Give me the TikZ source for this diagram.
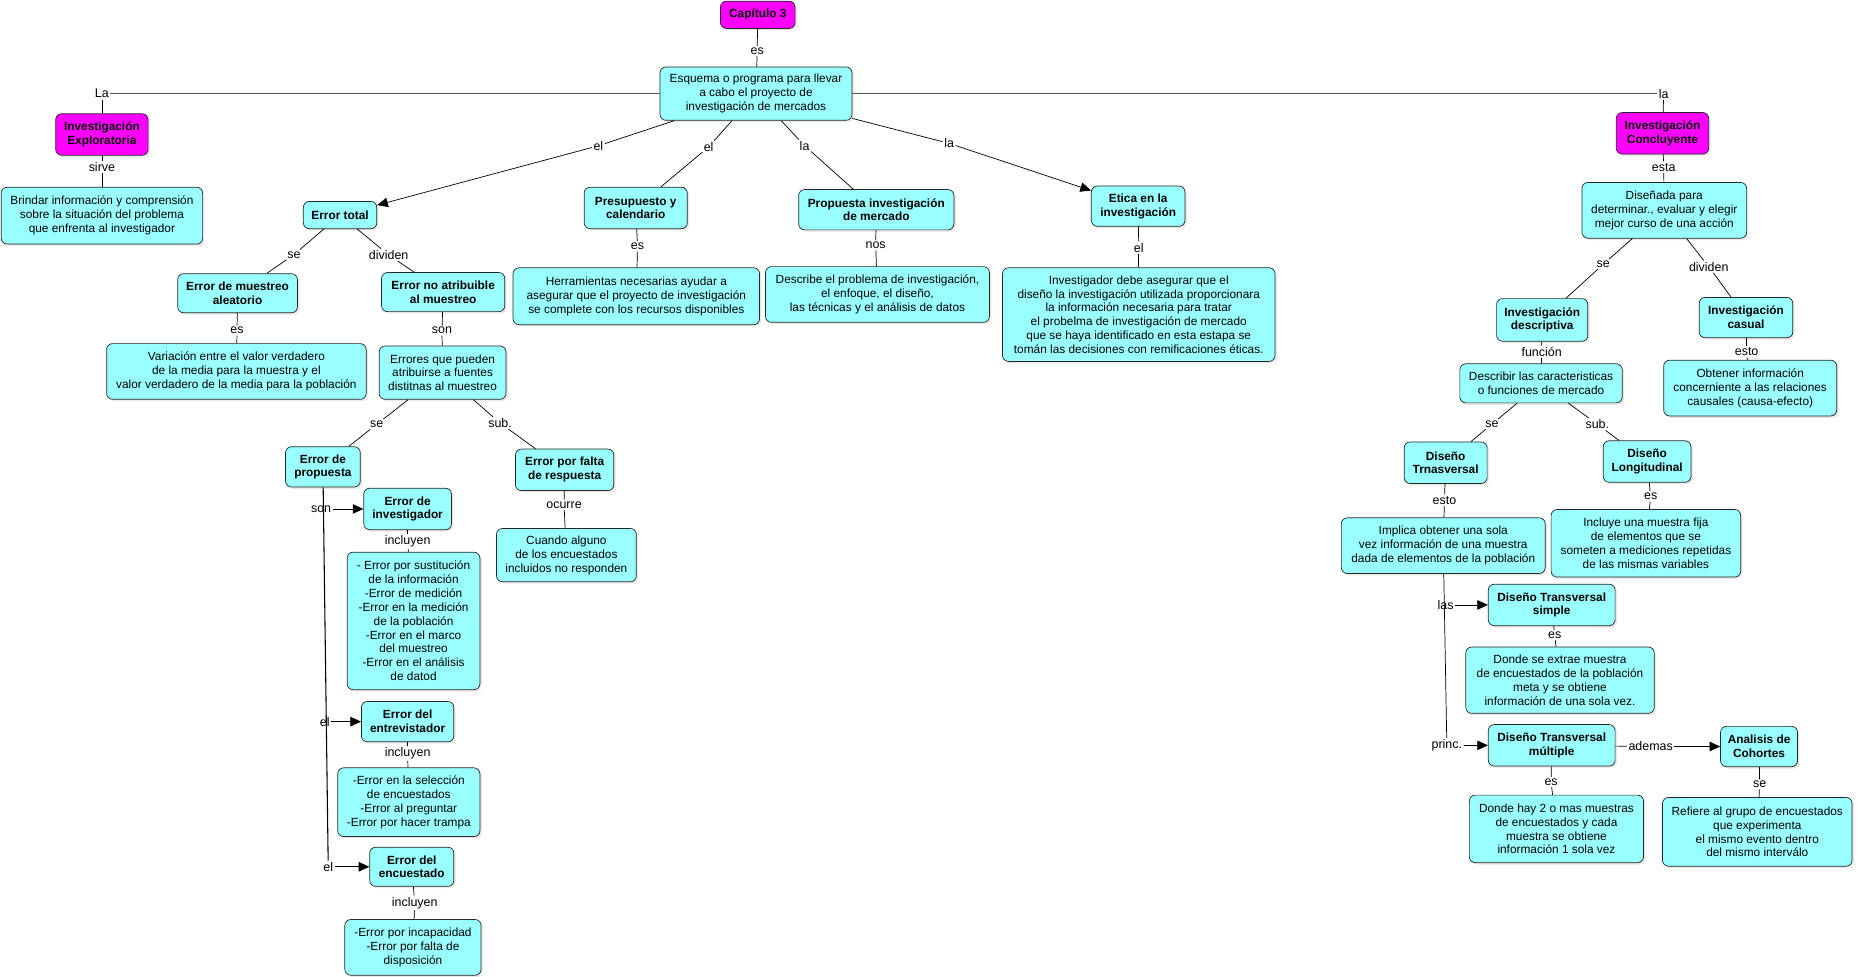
\documentclass[tikz,border=0pt]{standalone}
\usepackage{fontspec}
\setmainfont{Liberation Sans}
\usetikzlibrary{arrows.meta,shadows}
\definecolor{cy}{RGB}{153,255,255}
\definecolor{mg}{RGB}{255,0,255}
\newcommand\boxfont{\fontsize{10}{11.7}\selectfont}
\newcommand\labfont{\fontsize{10.5}{12}\selectfont}
\tikzset{
  cbox/.style={draw=black!85, line width=0.6pt, rounded corners=5pt, fill=cy, align=center,
    inner sep=1pt, font=\boxfont,
    drop shadow={shadow xshift=1.6pt, shadow yshift=-1.6pt, fill=black!18}},
  tbox/.style={cbox, font=\boxfont\bfseries},
  mbox/.style={tbox, fill=mg},
  lbl/.style={inner sep=1.2pt, font=\labfont},
  con/.style={draw=black, line width=0.6pt},
  arr/.style={con, -{Triangle[length=9pt,width=8pt]}},
  topline/.style={draw=black!65, line width=0.9pt}
}
\begin{document}
\begin{tikzpicture}[x=1pt,y=-1pt]
\useasboundingbox (0,0) rectangle (1568,824);
% ---- top
\node[mbox, minimum width=63, minimum height=23] (cap) at (639.5,12.5) {Capítulo 3};
\node[lbl] (es0) at (639,43) {es};
\node[cbox, minimum width=162, minimum height=45] (esq) at (638,79) {Esquema o programa para llevar\\a cabo el proyecto de\\investigación de mercados};
\node[lbl] (La) at (86,79) {La};
\node[mbox, minimum width=78, minimum height=35] (expl) at (86,113.5) {Investigación\\Exploratoria};
\node[lbl] (sirve) at (86,141) {sirve};
\node[cbox, minimum width=170, minimum height=48] (brin) at (86,182) {Brindar información y comprensión\\sobre la situación del problema\\que enfrenta al investigador};
% ---- middle branches
\node[lbl] (el1) at (505,123) {el};
\node[tbox, minimum width=62, minimum height=23] (etot) at (287,181.5) {Error total};
\node[lbl] (el2) at (598,124) {el};
\node[tbox, minimum width=87, minimum height=35] (pres) at (536.5,175.5) {Presupuesto y\\calendario};
\node[lbl] (la1) at (679,123) {la};
\node[tbox, minimum width=131, minimum height=34] (prop) at (739.5,177) {Propuesta investigación\\de mercado};
\node[lbl] (la2) at (801,121) {la};
\node[tbox, minimum width=79, minimum height=34] (etica) at (960.5,174) {Etica en la\\investigación};
\node[lbl] (esH) at (538,208) {es};
\node[cbox, minimum width=208, minimum height=48] (herr) at (537,250) {Herramientas necesarias ayudar a\\asegurar que el proyecto de investigación\\se complete con los recursos disponibles};
\node[lbl] (nos) at (739,207) {nos};
\node[cbox, minimum width=189, minimum height=47] (desc) at (740.5,248.5) {Describe el problema de investigación,\\el enfoque, el diseño,\\las técnicas y el análisis de datos};
\node[lbl] (elE) at (961,209) {el};
\node[cbox, minimum width=230, minimum height=79] (inv) at (961,265.5) {Investigador debe asegurar que el\\diseño la investigación utilizada proporcionara\\la información necesaria para tratar\\el probelma de investigación de mercado\\que se haya identificado en esta estapa se\\tomán las decisiones con remificaciones éticas.};
% ---- error total branch
\node[lbl] (seA) at (248,215) {se};
\node[tbox, minimum width=101, minimum height=33] (ema) at (200.5,247.5) {Error de muestreo\\aleatorio};
\node[lbl] (div) at (328,215) {dividen};
\node[tbox, minimum width=104, minimum height=33] (ena) at (374,246.5) {Error no atribuible\\al muestreo};
\node[lbl] (esV) at (200,279) {es};
\node[cbox, minimum width=219, minimum height=47] (var) at (199.5,313.5) {Variación entre el valor verdadero\\de la media para la muestra y el\\valor verdadero de la media para la población};
\node[lbl] (son1) at (373,279) {son};
\node[cbox, minimum width=107, minimum height=45] (erq) at (373.5,314.5) {Errores que pueden\\atribuirse a fuentes\\distitnas al muestreo};
\node[lbl] (seP) at (318,358) {se};
\node[tbox, minimum width=63, minimum height=34] (epro) at (272.5,394) {Error de\\propuesta};
\node[lbl] (sub1) at (422,357) {sub.};
\node[tbox, minimum width=83, minimum height=35] (efr) at (476.5,396.5) {Error por falta\\de respuesta};
\node[lbl] (ocu) at (476,426) {ocurre};
\node[cbox, minimum width=118, minimum height=45] (cuan) at (478,468.5) {Cuando alguno\\de los encuestados\\incluidos no responden};
\node[lbl] (sonP) at (271,429.5) {son};
\node[tbox, minimum width=74, minimum height=35] (einv) at (344,429.5) {Error de\\investigador};
\node[lbl] (inc1) at (344,457) {incluyen};
\node[cbox, minimum width=112, minimum height=116] (lst1) at (349,524) {- Error por sustitución\\de la información\\-Error de medición\\-Error en la medición\\de la población\\-Error en el marco\\del muestreo\\-Error en el análisis\\de datod};
\node[lbl] (elP1) at (274,609) {el};
\node[tbox, minimum width=78, minimum height=34] (eent) at (344,609) {Error del\\entrevistador};
\node[lbl] (inc2) at (344,636) {incluyen};
\node[cbox, minimum width=120, minimum height=58] (lst2) at (345,677) {-Error en la selección\\de encuestados\\-Error al preguntar\\-Error por hacer trampa};
\node[lbl] (elP2) at (277,731.5) {el};
\node[tbox, minimum width=71, minimum height=33] (eenc) at (347.5,731.5) {Error del\\encuestado};
\node[lbl] (inc3) at (350,762) {incluyen};
\node[cbox, minimum width=115, minimum height=47] (lst3) at (348.5,799.5) {-Error por incapacidad\\-Error por falta de\\disposición};
% ---- right side
\node[lbl] (la3) at (1404,79) {la};
\node[mbox, minimum width=78, minimum height=35] (conc) at (1403,112.5) {Investigación\\Concluyente};
\node[lbl] (esta) at (1404,141) {esta};
\node[cbox, minimum width=139, minimum height=47] (dis) at (1404.5,177.5) {Diseñada para\\determinar., evaluar y elegir\\mejor curso de una acción};
\node[lbl] (seR) at (1353,223) {se};
\node[tbox, minimum width=77, minimum height=36] (ides) at (1301.5,270) {Investigación\\descriptiva};
\node[lbl] (divR) at (1442,225) {dividen};
\node[tbox, minimum width=79, minimum height=34] (icas) at (1473.5,268) {Investigación\\casual};
\node[lbl] (fun) at (1301,297) {función};
\node[cbox, minimum width=137, minimum height=33] (dscr) at (1300.5,323.5) {Describir las caracteristicas\\o funciones de mercado};
\node[lbl] (estoR) at (1474,297) {esto};
\node[cbox, minimum width=146, minimum height=47] (obt) at (1477,327.5) {Obtener información\\concerniente a las relaciones\\causales (causa-efecto)};
\node[lbl] (seD) at (1259,358) {se};
\node[tbox, minimum width=70, minimum height=35] (dtr) at (1220,390.5) {Diseño\\Trnasversal};
\node[lbl] (subD) at (1348,358) {sub.};
\node[tbox, minimum width=74, minimum height=35] (dlo) at (1390,389.5) {Diseño\\Longitudinal};
\node[lbl] (estoD) at (1219,422) {esto};
\node[cbox, minimum width=172, minimum height=47] (impl) at (1218,460.5) {Implica obtener una sola\\vez información de una muestra\\dada de elementos de la población};
\node[lbl] (esL) at (1393,419) {es};
\node[cbox, minimum width=160, minimum height=57] (incl) at (1389,458.5) {Incluye una muestra fija\\de elementos que se\\someten a mediciones repetidas\\de las mismas variables};
\node[lbl] (las) at (1220,510.5) {las};
\node[tbox, minimum width=107, minimum height=35] (dts) at (1309.5,510.5) {Diseño Transversal\\simple};
\node[lbl] (esS) at (1312,536) {es};
\node[cbox, minimum width=159, minimum height=56] (dse) at (1316.5,574) {Donde se extrae muestra\\de encuestados de la población\\meta y se obtiene\\información de una sola vez.};
\node[lbl] (princ) at (1221,629) {princ.};
\node[tbox, minimum width=107, minimum height=35] (dtm) at (1309.5,629) {Diseño Transversal\\múltiple};
\node[lbl] (adem) at (1393,630) {ademas};
\node[tbox, minimum width=65, minimum height=34] (coh) at (1484.5,630) {Analisis de\\Cohortes};
\node[lbl] (esM) at (1309,660) {es};
\node[cbox, minimum width=147, minimum height=57] (dha) at (1313.5,699.5) {Donde hay 2 o mas muestras\\de encuestados y cada\\muestra se obtiene\\información 1 sola vez};
\node[lbl] (seC) at (1485,662) {se};
\node[cbox, minimum width=160, minimum height=58] (refi) at (1483,702) {Refiere al grupo de encuestados\\que experimenta\\el mismo evento dentro\\del mismo interválo};
% ---- connectors
\draw[con] (cap) -- (es0); \draw[con] (es0) -- (esq);
\draw[topline] (esq) -- (La); \draw[con] (La) -- (expl);
\draw[con] (expl) -- (sirve); \draw[con] (sirve) -- (brin);
\draw[topline] (esq) -- (la3); \draw[con] (la3) -- (conc);
\draw[con] (esq) -- (el1); \draw[arr] (el1) -- (etot);
\draw[con] (esq) -- (el2); \draw[con] (el2) -- (pres);
\draw[con] (esq) -- (la1); \draw[con] (la1) -- (prop);
\draw[con] (esq) -- (la2); \draw[arr] (la2) -- (etica);
\draw[con] (pres) -- (esH); \draw[con] (esH) -- (herr);
\draw[con] (prop) -- (nos); \draw[con] (nos) -- (desc);
\draw[con] (etica) -- (elE); \draw[con] (elE) -- (inv);
\draw[con] (etot) -- (seA); \draw[con] (seA) -- (ema);
\draw[con] (etot) -- (div); \draw[con] (div) -- (ena);
\draw[con] (ema) -- (esV); \draw[con] (esV) -- (var);
\draw[con] (ena) -- (son1); \draw[con] (son1) -- (erq);
\draw[con] (erq) -- (seP); \draw[con] (seP) -- (epro);
\draw[con] (erq) -- (sub1); \draw[con] (sub1) -- (efr);
\draw[con] (efr) -- (ocu); \draw[con] (ocu) -- (cuan);
\draw[con, line width=0.9pt] (epro) -- (elP2);
\draw[arr] (sonP) -- (einv);
\draw[arr] (elP1) -- (eent);
\draw[arr] (elP2) -- (eenc);
\draw[con] (einv) -- (inc1); \draw[con] (inc1) -- (lst1);
\draw[con] (eent) -- (inc2); \draw[con] (inc2) -- (lst2);
\draw[con] (eenc) -- (inc3); \draw[con] (inc3) -- (lst3);
\draw[con] (conc) -- (esta); \draw[con] (esta) -- (dis);
\draw[con] (dis) -- (seR); \draw[con] (seR) -- (ides);
\draw[con] (dis) -- (divR); \draw[con] (divR) -- (icas);
\draw[con] (ides) -- (fun); \draw[con] (fun) -- (dscr);
\draw[con] (icas) -- (estoR); \draw[con] (estoR) -- (obt);
\draw[con] (dscr) -- (seD); \draw[con] (seD) -- (dtr);
\draw[con] (dscr) -- (subD); \draw[con] (subD) -- (dlo);
\draw[con] (dtr) -- (estoD); \draw[con] (estoD) -- (impl);
\draw[con] (dlo) -- (esL); \draw[con] (esL) -- (incl);
\draw[con] (impl) -- (princ);
\draw[arr] (las) -- (dts);
\draw[arr] (princ) -- (dtm);
\draw[con] (dts) -- (esS); \draw[con] (esS) -- (dse);
\draw[con] (dtm) -- (adem); \draw[arr] (adem) -- (coh);
\draw[con] (dtm) -- (esM); \draw[con] (esM) -- (dha);
\draw[con] (coh) -- (seC); \draw[con] (seC) -- (refi);
\end{tikzpicture}
\end{document}
